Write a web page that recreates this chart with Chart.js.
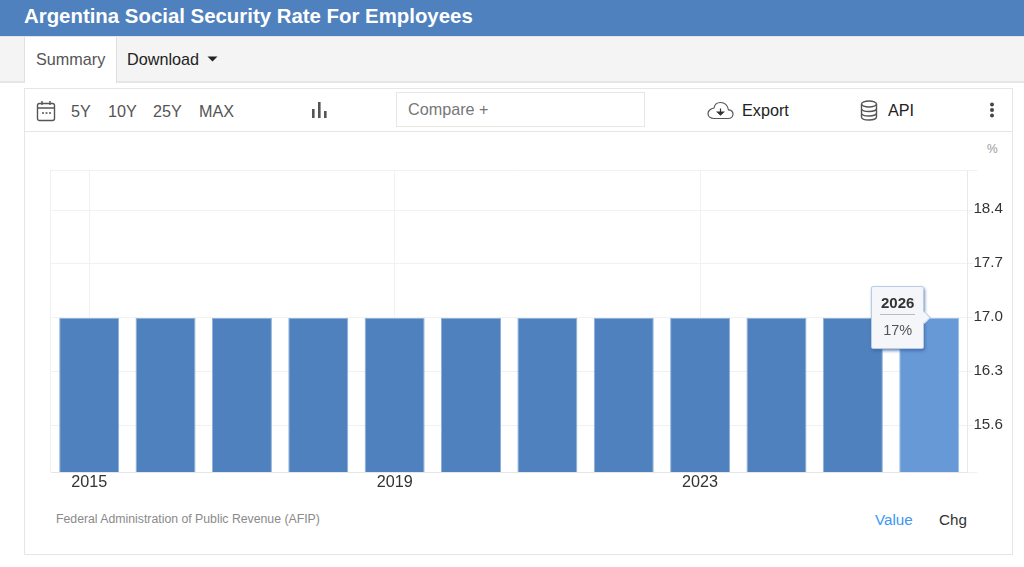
<!DOCTYPE html>
<html>
<head>
<meta charset="utf-8">
<title>Argentina Social Security Rate For Employees</title>
<script src="https://cdn.jsdelivr.net/npm/chart.js@4"></script>
<style>
html, body { margin: 0; padding: 0; background: #fff; overflow: hidden; }
body { width: 1024px; height: 567px; position: relative; font-family: "Liberation Sans", Arial, sans-serif; color: #333; }
.abs { position: absolute; white-space: nowrap; }
#header { left: 0; top: 0; width: 1024px; height: 36px; background: #4e81bd; }
#title { left: 24px; top: 4px; font-size: 20.4px; line-height: 24px; font-weight: bold; color: #fff; }
#tabbar { left: 0; top: 36px; width: 1024px; height: 47px; background: #f4f4f4; border-bottom: 2px solid #e6e6e6; border-top: 1px solid #e4e4e4; box-sizing: border-box; }
#tab { left: 24px; top: 37px; width: 93px; height: 46px; background: #fff; border-left: 1px solid #e0e0e0; border-right: 1px solid #e0e0e0; box-sizing: border-box; }
#card { left: 24px; top: 88px; width: 989px; height: 467px; border: 1px solid #e6e6e6; box-sizing: border-box; }
#toolsep { left: 25px; top: 131px; width: 987px; height: 1px; background: #e6e6e6; }
#compare { left: 396px; top: 92px; width: 249px; height: 35px; border: 1px solid #e8e8e0; box-sizing: border-box; }
.t16 { font-size: 16.2px; line-height: 20px; }
#chartBox { left: 25px; top: 140px; width: 987px; height: 360px; }
#tip { display: none; width: 53px; height: 63px; box-sizing: border-box; background: #f4f6f9; border: 1px solid #b9cce6; border-radius: 2px; box-shadow: 1px 2px 3px rgba(60,100,160,.7); text-align: center; color: #333; }
#tipArrow { position: absolute; right: -6px; top: 26px; width: 9px; height: 9px; background: #f4f6f9; transform: rotate(45deg); border-top: 1px solid #b9cce6; border-right: 1px solid #b9cce6; box-sizing: border-box; }
#tipYear { font-size: 15px; font-weight: bold; line-height: 18px; margin: 7px 8px 0; padding-bottom: 2px; border-bottom: 1px solid #bbb; }
#tipValue { font-size: 14.5px; line-height: 18px; margin-top: 6px; color: #555; }
</style>
</head>
<body>
<div id="header" class="abs"></div>
<div id="title" class="abs">Argentina Social Security Rate For Employees</div>
<div id="tabbar" class="abs"></div>
<div id="tab" class="abs"></div>
<div class="abs t16" style="left:36px;top:49px;color:#555">Summary</div>
<div class="abs t16" style="left:127px;top:49px;color:#222">Download</div>
<svg class="abs" style="left:207px;top:56px" width="11" height="6"><path d="M0.5 0.5H10.5L5.5 5.5Z" fill="#222"/></svg>

<div id="card" class="abs"></div>
<div id="toolsep" class="abs"></div>
<svg class="abs" style="left:36px;top:100px" width="21" height="22" fill="none" stroke="#555" stroke-width="1.4">
  <rect x="1.5" y="3.5" width="17" height="17" rx="2"/><path d="M1.5 8H18.5M6 1V5M14 1V5"/><path d="M6 13H8M9.5 13H11.5M13 13H15" stroke-width="1.6"/>
</svg>
<div class="abs t16" style="left:71px;top:101px;color:#555">5Y</div>
<div class="abs t16" style="left:108px;top:101px;color:#555">10Y</div>
<div class="abs t16" style="left:153px;top:101px;color:#555">25Y</div>
<div class="abs t16" style="left:199px;top:101px;color:#555">MAX</div>
<svg class="abs" style="left:312px;top:102px" width="15" height="16" fill="#555">
  <rect x="0" y="7" width="2.6" height="9"/><rect x="6" y="0" width="2.6" height="16"/><rect x="12" y="9" width="2.6" height="7"/>
</svg>
<div id="compare" class="abs"></div>
<div class="abs t16" style="left:408px;top:99px;color:#777">Compare +</div>
<svg class="abs" style="left:707px;top:101px" width="27" height="19" fill="none" stroke="#555" stroke-width="1.2">
  <path d="M7 17.5H21C24 17.5 26 15.5 26 13C26 10.5 24 8.8 21.5 8.8C20.5 4 17 1.5 13.5 1.5C10 1.5 7.5 4 7 7C3.5 7.5 1 10 1 12.5C1 15.5 3.5 17.5 7 17.5Z"/>
  <path d="M13.5 7.5V13M10.5 11L13.5 14L16.5 11Z" fill="#333" stroke="#333"/>
</svg>
<div class="abs t16" style="left:742px;top:100px;color:#222">Export</div>
<svg class="abs" style="left:860px;top:100px" width="18" height="21" fill="none" stroke="#555" stroke-width="1.4">
  <ellipse cx="9" cy="4" rx="7.5" ry="3"/><path d="M1.5 4V17C1.5 19 5 20 9 20C13 20 16.5 19 16.5 17V4M1.5 8.5C1.5 10.5 5 11.5 9 11.5C13 11.5 16.5 10.5 16.5 8.5M1.5 13C1.5 15 5 16 9 16C13 16 16.5 15 16.5 13"/>
</svg>
<div class="abs t16" style="left:888px;top:100px;color:#222">API</div>
<svg class="abs" style="left:989px;top:102px" width="6" height="16" fill="#444"><circle cx="3" cy="2.5" r="2"/><circle cx="3" cy="8" r="2"/><circle cx="3" cy="13.5" r="2"/></svg>
<div class="abs" style="left:987px;top:142px;font-size:12px;line-height:14px;color:#999">%</div>

<div id="chartBox" class="abs"><canvas id="rateChart"></canvas></div>
<div id="tip" class="abs"><div id="tipArrow"></div><div id="tipYear"></div><div id="tipValue"></div></div>

<div class="abs" style="left:56px;top:512px;font-size:12.28px;line-height:14px;color:#8a8a8a">Federal Administration of Public Revenue (AFIP)</div>
<div class="abs t16" style="left:875px;top:510px;font-size:15.2px;color:#3d97f0">Value</div>
<div class="abs t16" style="left:939px;top:510px;font-size:15.2px;color:#333">Chg</div>

<script>
const years = ['2015', '2016', '2017', '2018', '2019', '2020', '2021', '2022', '2023', '2024', '2025', '2026'];
const rates = [17, 17, 17, 17, 17, 17, 17, 17, 17, 17, 17, 17];
const yTicks = [15.6, 16.3, 17.0, 17.7, 18.4];
const yearEvery = 4;
const gridColor = '#f1f1f1';

const tip = document.getElementById('tip');
const chartBox = document.getElementById('chartBox');

function drawTip(context) {
    const tooltip = context.tooltip;
    if (tooltip.opacity === 0) {
        tip.style.display = 'none';
        return;
    }
    document.getElementById('tipYear').textContent = tooltip.title[0];
    document.getElementById('tipValue').textContent = tooltip.body[0].lines[0];
    tip.style.display = 'block';
    // box sits left of the bar top, arrow points at the caret
    tip.style.left = (chartBox.offsetLeft + tooltip.caretX - 58) + 'px';
    tip.style.top = (chartBox.offsetTop + tooltip.caretY - 32) + 'px';
}

// the left and top edges of the plot, and the stubs past the right edge
const plotFrame = {
    id: 'plotFrame',
    beforeDatasetsDraw(chart) {
        const { ctx, chartArea } = chart;
        ctx.save();
        ctx.strokeStyle = gridColor;
        ctx.lineWidth = 1;
        ctx.beginPath();
        ctx.moveTo(chartArea.left - 0.5, chartArea.top);
        ctx.lineTo(chartArea.left - 0.5, chartArea.bottom);
        ctx.moveTo(chartArea.left - 1, chartArea.top + 0.5);
        ctx.lineTo(chartArea.right + 10, chartArea.top + 0.5);
        ctx.moveTo(chartArea.right, chartArea.bottom + 0.5);
        ctx.lineTo(chartArea.right + 10, chartArea.bottom + 0.5);
        ctx.stroke();
        ctx.restore();
    }
};

const chart = new Chart(document.getElementById('rateChart'), {
    type: 'bar',
    data: {
        labels: years,
        datasets: [{
            data: rates,
            backgroundColor: '#4e81bd',
            hoverBackgroundColor: '#6699d6',
            borderColor: '#8fb0d8',
            hoverBorderColor: '#9dbde8',
            borderWidth: 1,
            barPercentage: 0.786,
            categoryPercentage: 1
        }]
    },
    plugins: [plotFrame],
    options: {
        responsive: true,
        maintainAspectRatio: false,
        animation: false,
        events: [],
        layout: { padding: { left: 26, top: 30, right: 0, bottom: 0 } },
        plugins: {
            legend: { display: false },
            tooltip: {
                enabled: false,
                external: drawTip,
                callbacks: { label: (item) => item.raw + '%' }
            }
        },
        scales: {
            x: {
                grid: {
                    color: (ctx) => ctx.index % yearEvery === 0 ? gridColor : 'transparent',
                    drawTicks: false,
                    offset: false
                },
                border: { color: '#e6e6e6' },
                afterFit: (axis) => { axis.height = 28; },
                ticks: {
                    autoSkip: false,
                    maxRotation: 0,
                    padding: 1,
                    color: '#333',
                    font: { family: '"Liberation Sans", Arial, sans-serif', size: 16.2 },
                    callback: function (value, index) {
                        return index % yearEvery === 0 ? years[index] : '';
                    }
                }
            },
            y: {
                position: 'right',
                min: 15,
                max: 18.92,
                afterBuildTicks: (axis) => { axis.ticks = yTicks.map((v) => ({ value: v })); },
                afterFit: (axis) => { axis.width = 44.6; },
                grid: { color: gridColor, tickLength: 6 },
                border: { color: '#e8e8e8', dash: [] },
                ticks: {
                    padding: 0,
                    color: '#333',
                    // the empty second line lifts the label above its grid line
                    font: { family: '"Liberation Sans", Arial, sans-serif', size: 15.2, lineHeight: '2px' },
                    callback: (value) => [value.toFixed(1), '']
                }
            }
        }
    }
});

const lastBar = [{ datasetIndex: 0, index: years.length - 1 }];
chart.setActiveElements(lastBar);
chart.tooltip.setActiveElements(lastBar, { x: 0, y: 0 });
chart.update();
</script>
</body>
</html>
